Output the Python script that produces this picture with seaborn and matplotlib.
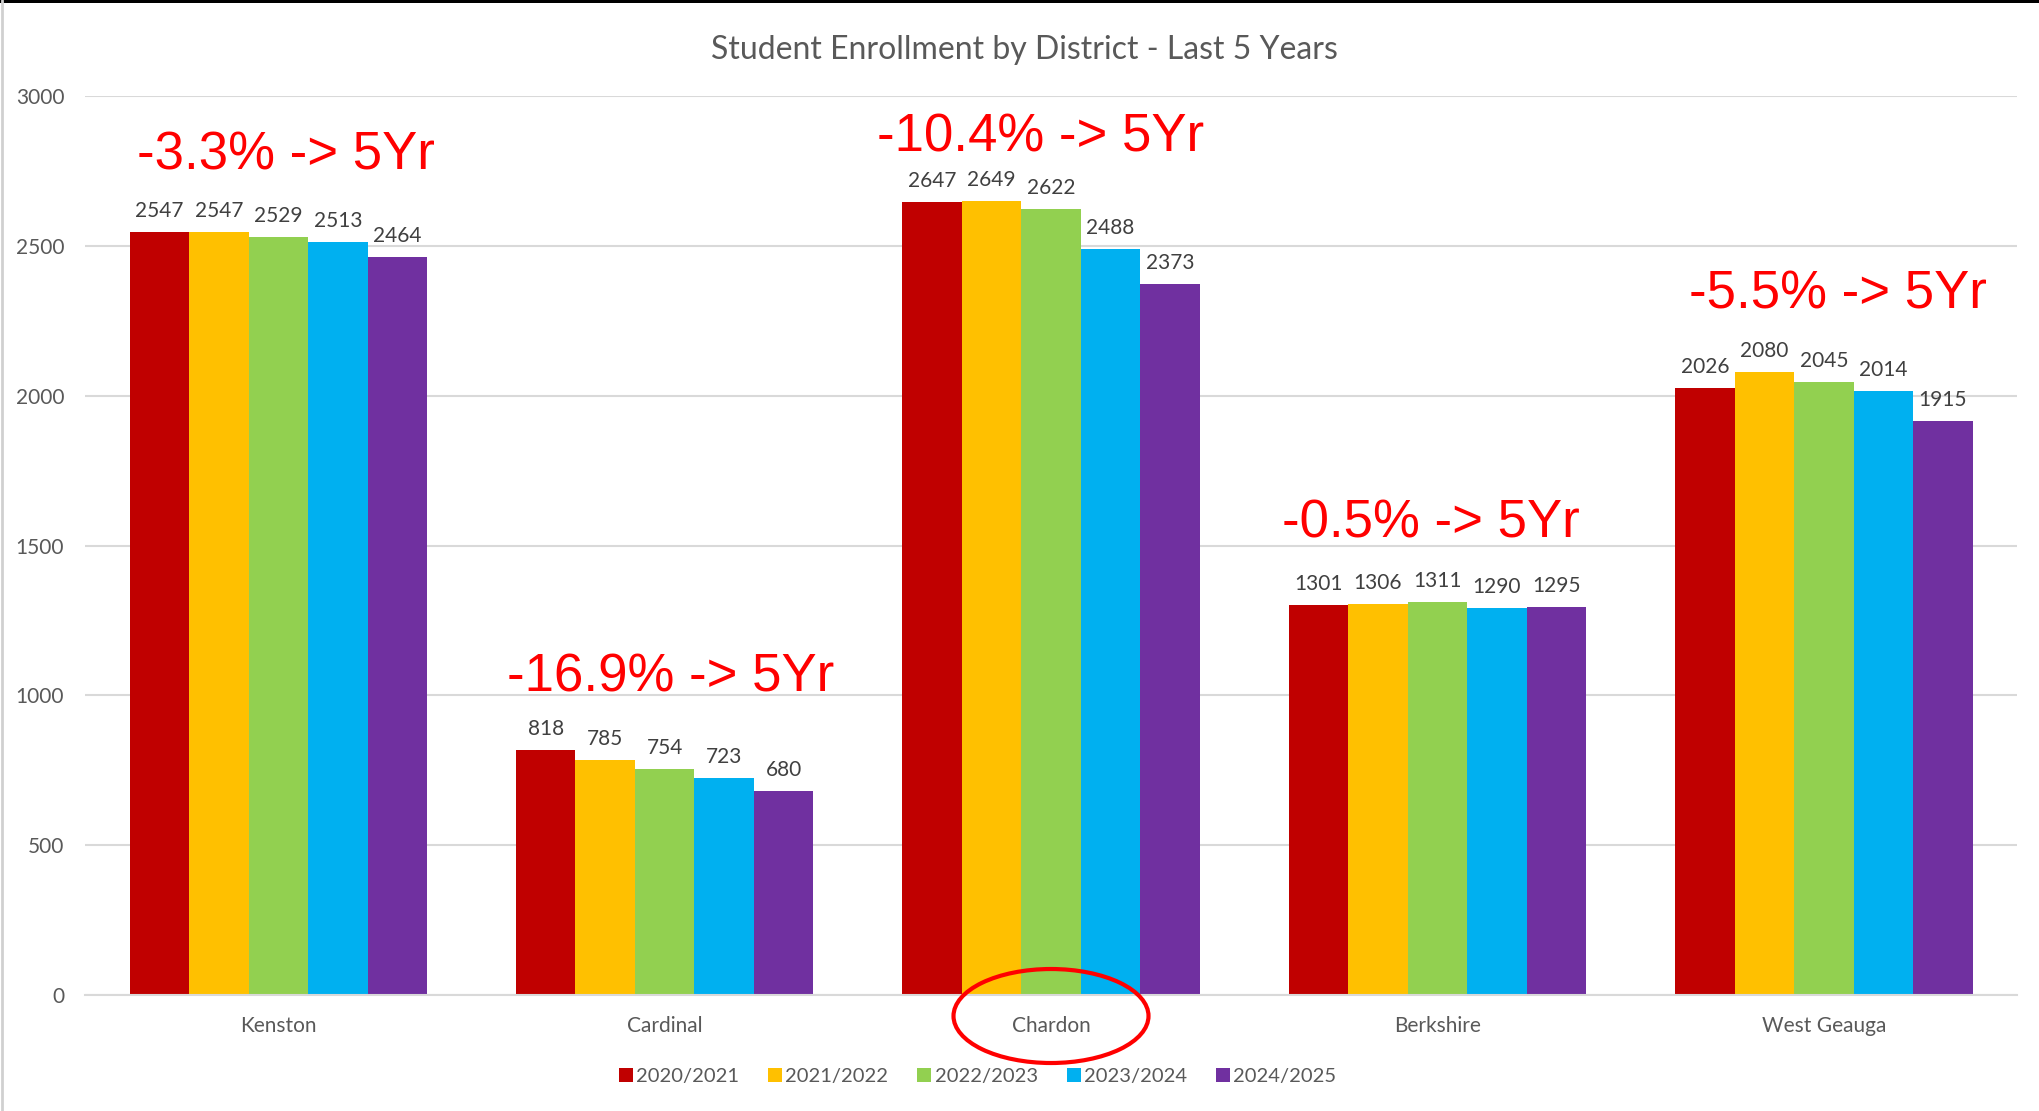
import matplotlib
matplotlib.use("Agg")
import matplotlib.pyplot as plt
import seaborn as sns
import pandas as pd
from matplotlib.patches import Ellipse, Rectangle
from matplotlib.lines import Line2D

districts = ["Kenston", "Cardinal", "Chardon", "Berkshire", "West Geauga"]
years = ["2020/2021", "2021/2022", "2022/2023", "2023/2024", "2024/2025"]

enroll_2020 = [2547, 818, 2647, 1301, 2026]
enroll_2021 = [2547, 785, 2649, 1306, 2080]
enroll_2022 = [2529, 754, 2622, 1311, 2045]
enroll_2023 = [2513, 723, 2488, 1290, 2014]
enroll_2024 = [2464, 680, 2373, 1295, 1915]

colors = ["#C00000", "#FFC000", "#92D050", "#00B0F0", "#7030A0"]

# where the red "% -> 5Yr" notes sit (x in category units, y in data units)
note_x = [-0.365, 0.593, 1.549, 2.598, 3.650]
note_y = [2800, 1060, 2862, 1572, 2336]

series = [enroll_2020, enroll_2021, enroll_2022, enroll_2023, enroll_2024]
rows = []
for year, vals in zip(years, series):
    for d, v in zip(districts, vals):
        rows.append({"District": d, "Year": year, "Students": v})
df = pd.DataFrame(rows)

sns.set_theme(style="white")
plt.rcParams["font.family"] = ["Lato", "DejaVu Sans"]

fig = plt.figure(figsize=(20.4, 11.11), dpi=100)
ax = fig.add_axes([0.0417, 0.1044, 0.9470, 0.8092])

sns.barplot(data=df, x="District", y="Students", hue="Year", order=districts,
            hue_order=years, palette=colors, width=0.77, saturation=1,
            linewidth=0, legend=False, ax=ax)

for cont in ax.containers:
    ax.bar_label(cont, fmt="%d", padding=8, fontsize=15, color="#404040")

ax.set_xlim(-0.5, 4.5)
ax.set_ylim(0, 3000)
ax.set_yticks(range(0, 3001, 500))
ax.yaxis.grid(True, color="#D9D9D9", linewidth=1.5)
ax.set_axisbelow(True)
for s in ["top", "right", "left"]:
    ax.spines[s].set_visible(False)
ax.spines["bottom"].set_color("#D9D9D9")
ax.spines["bottom"].set_linewidth(1.5)
ax.tick_params(axis="y", length=0, pad=15, labelsize=15, labelcolor="#595959")
ax.tick_params(axis="x", length=0, pad=15, labelsize=15, labelcolor="#595959")
ax.set_xlabel("")
ax.set_ylabel("")

fig.text(0.502, 0.955, "Student Enrollment by District - Last 5 Years",
         ha="center", va="center", fontsize=23, color="#595959")

# five-year change notes
for i in range(len(districts)):
    pct = (enroll_2024[i] - enroll_2020[i]) / enroll_2020[i] * 100
    ax.text(note_x[i], note_y[i], f"{pct:.1f}% -> 5Yr", ha="left", va="center",
            fontsize=38, color="#FF0000", family=["Liberation Sans", "DejaVu Sans"])

handles = [Line2D([0], [0], marker="s", linestyle="", markersize=10,
                  markerfacecolor=c, markeredgewidth=0) for c in colors]
fig.legend(handles, years, loc="center", bbox_to_anchor=(0.479, 0.0315), ncol=5,
           frameon=False, fontsize=14.5, labelcolor="#595959", handletextpad=0.1,
           columnspacing=1.4, handlelength=0.8)

# red circle around Chardon
fig.add_artist(Ellipse((0.5152, 0.0855), 195 / 2040, 94 / 1111, fill=False,
                       edgecolor="#FF0000", linewidth=3))

# screenshot edges
fig.add_artist(Rectangle((0, 1 - 3 / 1111), 1, 3 / 1111, color="black", lw=0))
fig.add_artist(Line2D([0.001, 0.001], [0, 1], color="#D0D0D0", linewidth=2))

fig.savefig("out.png", dpi=100)
